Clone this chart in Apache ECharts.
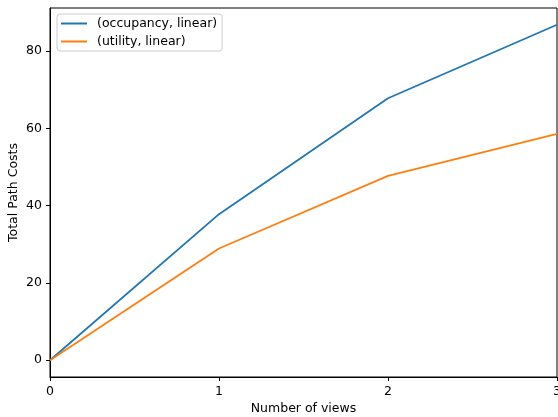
<!DOCTYPE html>
<html>
<head>
<meta charset="utf-8">
<script src="https://cdn.jsdelivr.net/npm/echarts@6/dist/echarts.min.js"></script>
<style>html,body{margin:0;padding:0;background:#fff;}#c{width:558px;height:417px;}</style>
</head>
<body>
<div id="c"></div>
<script>
const views = [0, 1, 2, 3];
const occupancy = [0, 37.8, 67.8, 86.8];
const utility = [0, 28.9, 47.7, 58.6];
const seriesNames = ['(occupancy, linear)', '(utility, linear)'];
const xTicks = [0, 1, 2, 3];
const yTicks = [0, 20, 40, 60, 80];

const font = 'DejaVu Sans';
const chart = echarts.init(document.getElementById('c'));
chart.setOption({
  animation: false,
  backgroundColor: '#fff',
  grid: { left: 50, right: 1, top: 8, bottom: 40, containLabel: false, outerBoundsMode: 'none', show: true, borderColor: '#000', borderWidth: 1, backgroundColor: 'transparent' },
  legend: {
    orient: 'vertical', left: 57, top: 14,
    padding: [3, 5, 3, 4], itemGap: 5,
    borderColor: '#cccccc', borderWidth: 1, borderRadius: 3,
    backgroundColor: 'rgba(255,255,255,0.8)',
    itemWidth: 26, itemHeight: 2, icon: 'rect',
    textStyle: { fontFamily: font, fontSize: 12.5, color: '#000', padding: [0, 0, 0, 5] },
    data: seriesNames
  },
  xAxis: {
    type: 'value', min: 0, max: 3, interval: 1,
    name: 'Number of views', nameLocation: 'middle', nameGap: 25, nameMoveOverlap: false,
    nameTextStyle: { fontFamily: font, fontSize: 12.5, color: '#000' },
    axisLine: { show: true, onZero: false, lineStyle: { color: '#000', width: 1 } },
    axisTick: { show: true, length: 4, lineStyle: { color: '#000' }, customValues: xTicks },
    axisLabel: { fontFamily: font, fontSize: 12.5, color: '#000', margin: 8, customValues: xTicks },
    splitLine: { show: false }
  },
  yAxis: {
    type: 'value', min: -4.34, max: 91.14,
    name: 'Total Path Costs', nameLocation: 'middle', nameGap: 30, nameRotate: 90, nameMoveOverlap: false,
    nameTextStyle: { fontFamily: font, fontSize: 12.5, color: '#000' },
    axisLine: { show: true, onZero: false, lineStyle: { color: '#000', width: 1 } },
    axisTick: { show: true, length: 4, lineStyle: { color: '#000' }, customValues: yTicks },
    axisLabel: { fontFamily: font, fontSize: 12.5, color: '#000', margin: 8, customValues: yTicks },
    splitLine: { show: false }
  },
  series: [
    { name: seriesNames[0], type: 'line', data: views.map((v, i) => [v, occupancy[i]]), showSymbol: false, symbol: 'none', lineStyle: { color: '#1f77b4', width: 1.8 }, itemStyle: { color: '#1f77b4' } },
    { name: seriesNames[1], type: 'line', data: views.map((v, i) => [v, utility[i]]), showSymbol: false, symbol: 'none', lineStyle: { color: '#ff7f0e', width: 1.8 }, itemStyle: { color: '#ff7f0e' } }
  ]
});
</script>
</body>
</html>
